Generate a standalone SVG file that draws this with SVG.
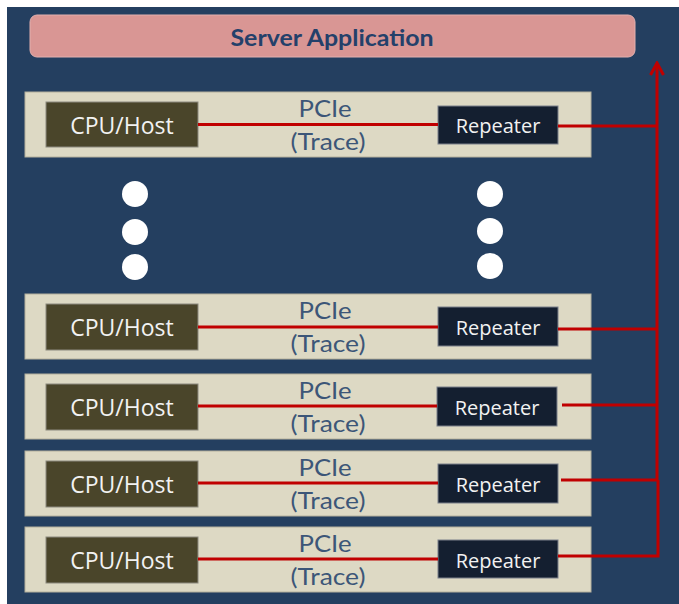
<svg xmlns="http://www.w3.org/2000/svg" width="679" height="604" viewBox="0 0 679 604">
<defs>
<style>
.bg{fill:#243f60}
.panel{fill:#ddd9c4;stroke:#b4b09c;stroke-width:1}
.cpu{fill:#4a452a;stroke:#8c8a7e;stroke-width:1}
.rep{fill:#141f30;stroke:#7a808a;stroke-width:1}
.dot{fill:#ffffff}
.wire{fill:none;stroke:#c00000;stroke-width:3}
.t-cpu{font-family:"Open Sans",sans-serif;font-size:23px;fill:#f2f2f2;text-anchor:middle}
.t-rep{font-family:"Open Sans",sans-serif;font-size:20px;fill:#f2f2f2;text-anchor:middle}
.t-pcie{font-family:"Lato","DejaVu Sans",sans-serif;font-size:23px;fill:#3c5678;text-anchor:middle}
.t-title{font-family:"Lato","Liberation Sans",sans-serif;font-weight:bold;font-size:23px;fill:#24406a;text-anchor:middle}
</style>
<marker id="arr" viewBox="0 0 16 16" refX="14" refY="8" markerWidth="16" markerHeight="16" markerUnits="userSpaceOnUse" orient="auto">
<path d="M2,1.5 L14,8 L2,14.5" fill="none" stroke="#c00000" stroke-width="3"/>
</marker>
</defs>
<rect class="bg" x="7" y="7" width="672" height="597"/>
<g id="server-application">
<rect x="30" y="15" width="605" height="42" rx="7" ry="7" fill="#d99694" stroke="#e2b0ae" stroke-width="1"/>
<text class="t-title" x="332" y="46" textLength="203" lengthAdjust="spacingAndGlyphs">Server Application</text>
</g>
<g id="row1">
<rect class="panel" x="25" y="92" width="566" height="65"/>
<rect class="cpu" x="46" y="102" width="152" height="45"/>
<text class="t-cpu" x="122" y="134">CPU/Host</text>
<text class="t-pcie" x="325" y="117" textLength="53" lengthAdjust="spacingAndGlyphs">PCIe</text>
<text class="t-pcie" x="328" y="150" textLength="75" lengthAdjust="spacingAndGlyphs">(Trace)</text>
<rect class="rep" x="438" y="106" width="120" height="38"/>
<text class="t-rep" x="498" y="133">Repeater</text>
</g>
<g id="ellipsis-left">
<circle class="dot" cx="135" cy="194" r="13"/>
<circle class="dot" cx="135" cy="232" r="13"/>
<circle class="dot" cx="135" cy="267" r="13"/>
</g>
<g id="ellipsis-right">
<circle class="dot" cx="490" cy="194" r="13"/>
<circle class="dot" cx="490" cy="231" r="13"/>
<circle class="dot" cx="490" cy="266" r="13"/>
</g>
<g id="row2">
<rect class="panel" x="25" y="294" width="566" height="65"/>
<rect class="cpu" x="46" y="304" width="152" height="46"/>
<text class="t-cpu" x="122" y="336">CPU/Host</text>
<text class="t-pcie" x="325" y="319" textLength="53" lengthAdjust="spacingAndGlyphs">PCIe</text>
<text class="t-pcie" x="328" y="352" textLength="75" lengthAdjust="spacingAndGlyphs">(Trace)</text>
<rect class="rep" x="438" y="307" width="120" height="39"/>
<text class="t-rep" x="498" y="335">Repeater</text>
</g>
<g id="row3">
<rect class="panel" x="25" y="374" width="566" height="65"/>
<rect class="cpu" x="46" y="384" width="152" height="46"/>
<text class="t-cpu" x="122" y="416">CPU/Host</text>
<text class="t-pcie" x="325" y="399" textLength="53" lengthAdjust="spacingAndGlyphs">PCIe</text>
<text class="t-pcie" x="328" y="432" textLength="75" lengthAdjust="spacingAndGlyphs">(Trace)</text>
<rect class="rep" x="437" y="387" width="120" height="39"/>
<text class="t-rep" x="497" y="415">Repeater</text>
</g>
<g id="row4">
<rect class="panel" x="25" y="451" width="566" height="65"/>
<rect class="cpu" x="46" y="461" width="152" height="46"/>
<text class="t-cpu" x="122" y="493">CPU/Host</text>
<text class="t-pcie" x="325" y="476" textLength="53" lengthAdjust="spacingAndGlyphs">PCIe</text>
<text class="t-pcie" x="328" y="509" textLength="75" lengthAdjust="spacingAndGlyphs">(Trace)</text>
<rect class="rep" x="438" y="464" width="120" height="39"/>
<text class="t-rep" x="498" y="492">Repeater</text>
</g>
<g id="row5">
<rect class="panel" x="25" y="527" width="566" height="65"/>
<rect class="cpu" x="46" y="537" width="152" height="46"/>
<text class="t-cpu" x="122" y="569">CPU/Host</text>
<text class="t-pcie" x="325" y="552" textLength="53" lengthAdjust="spacingAndGlyphs">PCIe</text>
<text class="t-pcie" x="328" y="585" textLength="75" lengthAdjust="spacingAndGlyphs">(Trace)</text>
<rect class="rep" x="438" y="540" width="120" height="38"/>
<text class="t-rep" x="498" y="568">Repeater</text>
</g>
<g id="connectors">
<path class="wire" d="M198,124.5 H438"/>
<path class="wire" d="M198,327 H438"/>
<path class="wire" d="M198,406 H437"/>
<path class="wire" d="M198,483 H438"/>
<path class="wire" d="M198,559 H438"/>
<path class="wire" d="M558,126 H657"/>
<path class="wire" d="M558,329 H657"/>
<path class="wire" d="M562,405 H657"/>
<path class="wire" d="M561,480 H657"/>
<path class="wire" d="M558,556 H658 V480"/>
<path class="wire" d="M657,480 V63" marker-end="url(#arr)"/>
</g>
</svg>
